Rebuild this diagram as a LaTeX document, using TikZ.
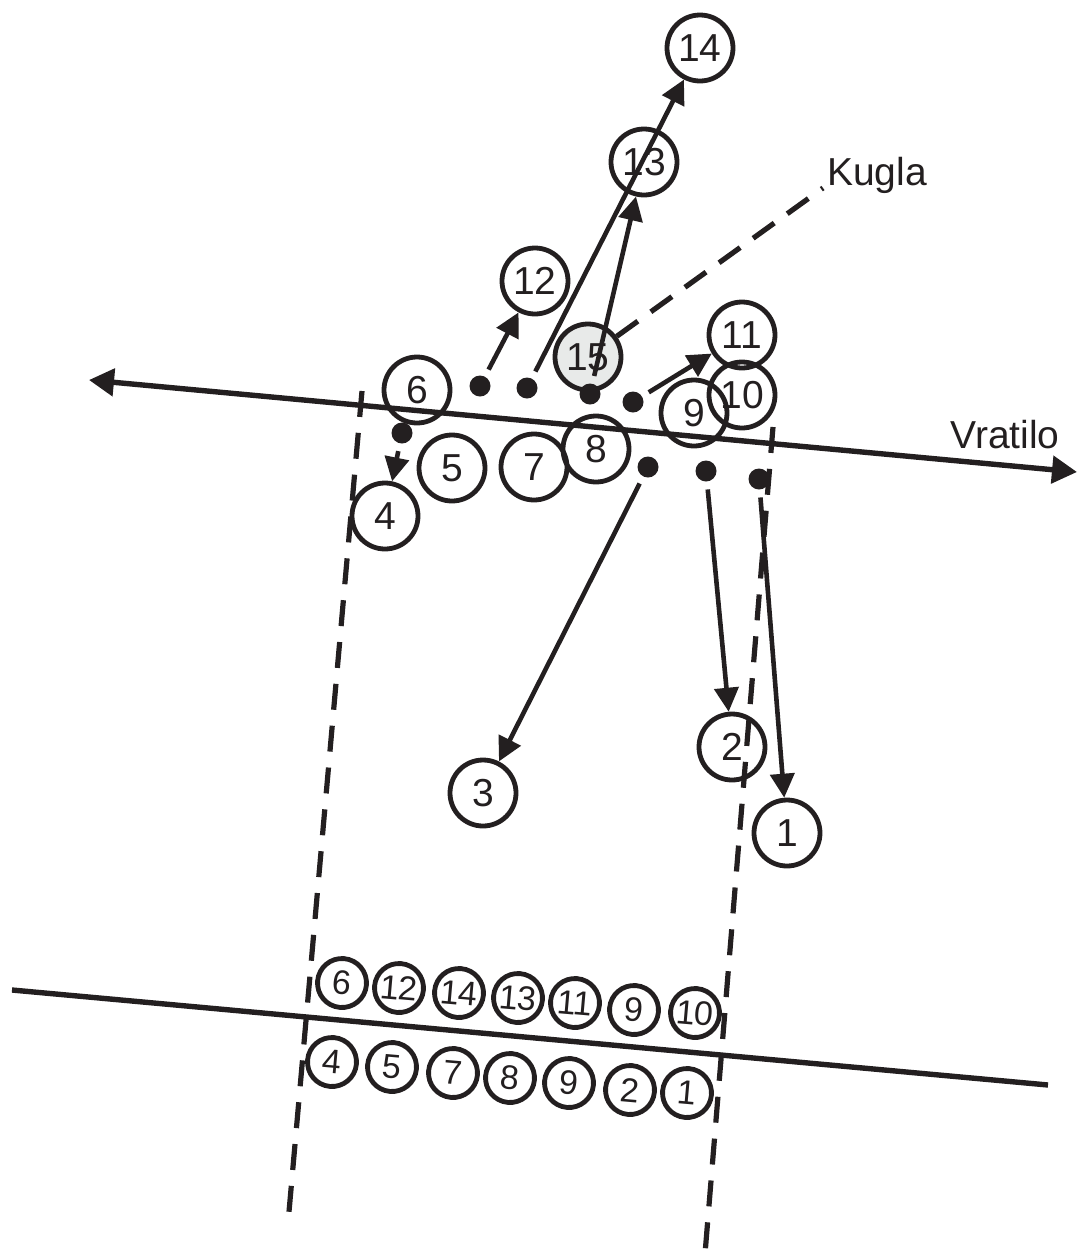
\documentclass[tikz,border=0pt]{standalone}
\usepackage{fontspec}
\setmainfont{Liberation Sans}
\usetikzlibrary{arrows.meta}
\definecolor{ink}{RGB}{35,31,32}
\definecolor{ballgray}{RGB}{232,234,233}

\begin{document}
\begin{tikzpicture}[x=0.5pt, y=-0.5pt,
  font=\fontsize{19.5}{22}\selectfont, text=ink,
  spot/.style={draw=ink, line width=2.4pt, circle, minimum size=33pt, inner sep=0pt},
  row/.style={draw=ink, line width=2.4pt, circle, minimum size=24.5pt, inner sep=0pt, rotate=-5, font=\fontsize{17}{19}\selectfont},
  dot/.style={fill=ink, circle, minimum size=10.5pt, inner sep=0pt, outer sep=4pt},
  move/.style={draw=ink, line width=2.3pt, -{Triangle[width=12pt,length=12pt]}},
  shaft/.style={draw=ink, line width=2.7pt, {Triangle[width=13.5pt,length=12.5pt]}-{Triangle[width=13.5pt,length=12.5pt]}},
  lane/.style={draw=ink, line width=2.6pt, dash pattern=on 13pt off 8pt}]
\useasboundingbox (0,0) rectangle (1077,1254);
% shaft and lanes
\coordinate (shaftL) at (89,380);
\coordinate (shaftR) at (1077,472);
\coordinate (laneLt) at (362,391);
\coordinate (laneLb) at (288,1223);
\coordinate (laneRt) at (773,427);
\coordinate (laneRb) at (705,1254);
\coordinate (baseL) at (12,990);
\coordinate (baseR) at (1048,1085);
\draw[lane] (laneLt) -- (laneLb);
\draw[lane] (laneRt) -- (laneRb);
\draw[shaft] (shaftL) -- (shaftR);
\draw[draw=ink, line width=2.7pt] (baseL) -- (baseR);
\node (vratilo) at (1005,435) {Vratilo};
\node (kugla) at (877,175) {Kugla};
\coordinate (kuglaend) at (823,188);
% positions after the throw
\node[spot] (c14) at (700,48) {14};
\node[spot] (c13) at (644,162) {13};
\node[spot] (c12) at (535,281) {12};
\node[spot] (c11) at (742,335) {11};
\node[spot] (c10) at (742,395) {10};
\node[spot] (c9) at (694,413) {9};
\node[spot] (c8) at (596,449) {8};
\node[spot] (c7) at (534,467) {7};
\node[spot] (c5) at (452,468) {5};
\node[spot] (c6) at (417,390) {6};
\node[spot] (c4) at (385,516) {4};
\node[spot] (c3) at (483,793) {3};
\node[spot] (c2) at (732,747) {2};
\node[spot] (c1) at (787,833) {1};
\node[spot, fill=ballgray] (c15) at (588,357) {15};
\draw[lane] (c15) -- (kuglaend);
% starting points
\node[dot] (d4) at (402,433) {};
\node[dot] (d12) at (480,386) {};
\node[dot] (d14) at (527,388) {};
\node[dot] (d13) at (590,394) {};
\node[dot] (d11) at (633,402) {};
\node[dot] (d3) at (648,467) {};
\node[dot] (d2) at (706,471) {};
\node[dot] (d1) at (759,479) {};
\draw[move] (d4) -- (c4);
\draw[move] (d12) -- (c12);
\draw[move] (d14) -- (c14);
\draw[move] (d13) -- (c13);
\draw[move] (d11) -- (c11);
\draw[move] (d3) -- (c3);
\draw[move] (d2) -- (c2);
\draw[move] (d1) -- (c1);
% rows
\node[row] (up6) at (342,983) {6};
\node[row] (up12) at (399,988) {12};
\node[row] (up14) at (459,993) {14};
\node[row] (up13) at (518,998) {13};
\node[row] (up11) at (575,1003) {11};
\node[row] (up9) at (634,1010) {9};
\node[row] (up10) at (695,1013) {10};
\node[row] (lo4) at (332,1062) {4};
\node[row] (lo5) at (392,1067) {5};
\node[row] (lo7) at (453,1073) {7};
\node[row] (lo8) at (510,1078) {8};
\node[row] (lo9) at (569,1083) {9};
\node[row] (lo2) at (630,1090) {2};
\node[row] (lo1) at (687,1093) {1};
\end{tikzpicture}
\end{document}
